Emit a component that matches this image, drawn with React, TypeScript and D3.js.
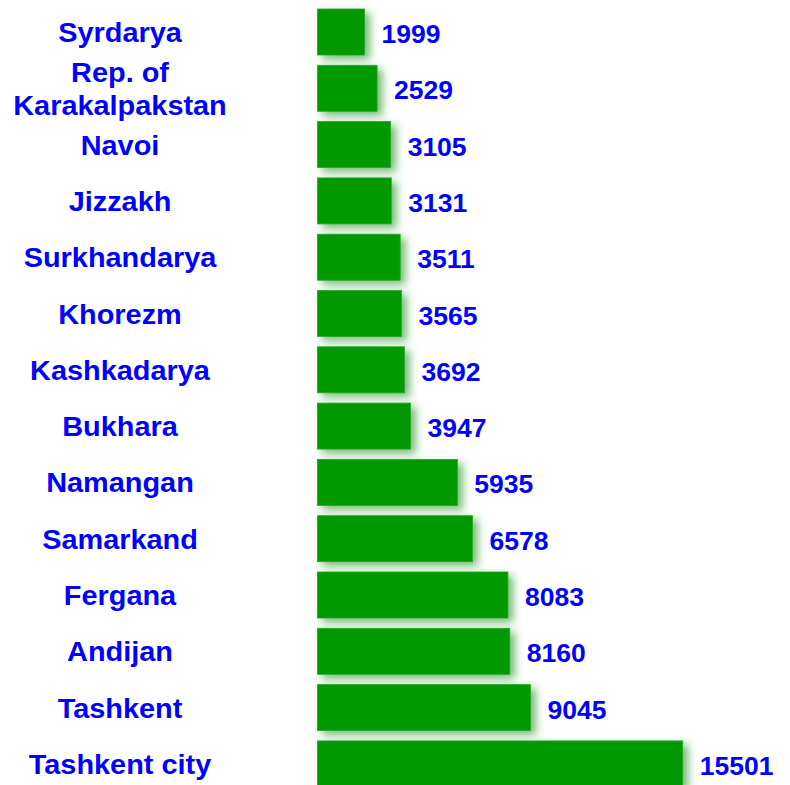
import React from "react";
import * as d3 from "d3";

const regions: string[] = [
  "Syrdarya",
  "Rep. of\nKarakalpakstan",
  "Navoi",
  "Jizzakh",
  "Surkhandarya",
  "Khorezm",
  "Kashkadarya",
  "Bukhara",
  "Namangan",
  "Samarkand",
  "Fergana",
  "Andijan",
  "Tashkent",
  "Tashkent city",
];

const values: number[] = [
  1999, 2529, 3105, 3131, 3511, 3565, 3692, 3947, 5935, 6578, 8083, 8160, 9045, 15501,
];

const W = 790;
const H = 785;
const FONT = "'Liberation Sans', Arial, Helvetica, sans-serif";
const BLUE = "#0000FF";
const GREEN = "#009900";

export default function App() {
  const y = d3
    .scaleBand<string>()
    .domain(regions)
    .range([3.85, 792.05])
    .paddingInner(0.183)
    .paddingOuter(0.0915);

  const x = d3.scaleLinear().domain([0, 15501]).range([317.5, 682.7]);

  const labelCx = 120;
  const lineGap = 33;

  return (
    <svg
      width={W}
      height={H}
      viewBox={`0 0 ${W} ${H}`}
      style={{ position: "absolute", left: 0, top: 0, display: "block", background: "#fff" }}
    >
      <defs>
        <filter id="glow" x="-20%" y="-40%" width="160%" height="200%">
          <feGaussianBlur in="SourceAlpha" stdDeviation="4.5" result="blur" />
          <feOffset in="blur" dx="5" dy="4" result="off" />
          <feFlood floodColor="#3a9f3a" floodOpacity="0.7" result="col" />
          <feComposite in="col" in2="off" operator="in" result="shadow" />
          <feMerge>
            <feMergeNode in="shadow" />
            <feMergeNode in="SourceGraphic" />
          </feMerge>
        </filter>
      </defs>
      <rect x={0} y={0} width={W} height={H} fill="#fff" />
      {regions.map((r, i) => {
        const top = y(r) as number;
        const bw = y.bandwidth();
        const cy = top + bw / 2;
        const lines = r.split("\n");
        const v = values[i];
        return (
          <g key={r}>
            <rect
              x={x(0)}
              y={top}
              width={x(v) - x(0)}
              height={bw}
              fill={GREEN}
              stroke="#2aa52a"
              strokeWidth={0.8}
              filter="url(#glow)"
            />
            <text
              x={x(v) + 17}
              y={cy + 11}
              fill={BLUE}
              fontFamily={FONT}
              fontWeight="bold"
              fontSize={26.5}
            >
              {v}
            </text>
            {lines.map((ln, k) => (
              <text
                key={k}
                transform={`translate(${labelCx},${cy + 10 + (k - (lines.length - 1) / 2) * lineGap}) scale(1.07,1)`}
                textAnchor="middle"
                fill={BLUE}
                fontFamily={FONT}
                fontWeight="bold"
                fontSize={27}
              >
                {ln}
              </text>
            ))}
          </g>
        );
      })}
    </svg>
  );
}
